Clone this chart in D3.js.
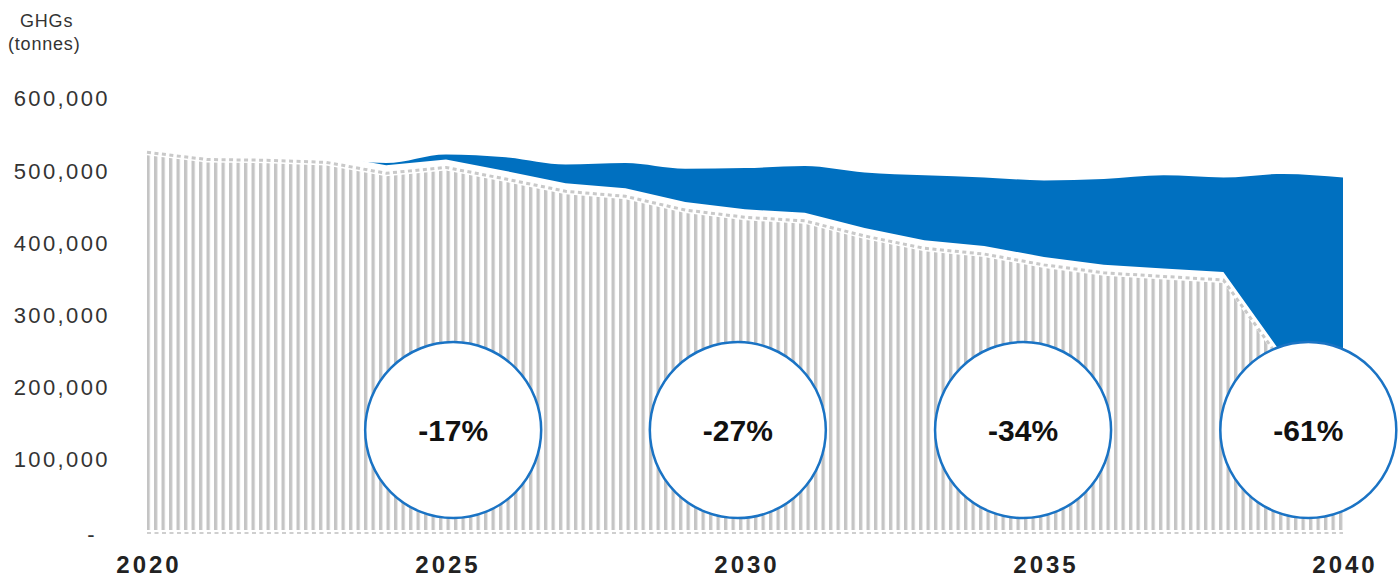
<!DOCTYPE html>
<html><head><meta charset="utf-8">
<script src="https://cdn.jsdelivr.net/npm/d3@7"></script>
<style>
body{margin:0;background:#fff;}
svg{display:block;font-family:"Liberation Sans",Arial,sans-serif;}
</style></head>
<body><svg id="chart" width="1398" height="578"></svg>
<script>
const years = [2020,2021,2022,2023,2024,2025,2026,2027,2028,2029,2030,2031,2032,2033,2034,2035,2036,2037,2038,2039,2040];
const pathway = [540000,530000,529000,526000,511000,519000,503000,486000,479000,460000,450000,445000,424000,407000,399000,384000,373000,368000,363000,247000,215000];
const bau = [null,null,null,522000,514000,526000,522000,512000,514000,506000,507000,510000,501000,497000,494000,490000,492000,497000,494000,499000,494000];
const yTicks = [0,100000,200000,300000,400000,500000,600000];
const xTicks = [2020,2025,2030,2035,2040];
const badgeLabels = ["-17%","-27%","-34%","-61%"];
const badgeYears = [2025.12,2029.88,2034.65,2039.42];
const badgeValue = 144000;

const svg = d3.select("#chart");
const x = d3.scaleLinear().domain([2020,2040]).range([147,1343]);
const y = d3.scaleLinear().domain([0,600000]).range([534,101]);
const blue = "#0070c0";

const defs = svg.append("defs");
const pat = defs.append("pattern").attr("id","stripes").attr("patternUnits","userSpaceOnUse")
  .attr("x", x(2020)-0.5).attr("y",0).attr("width",7.5).attr("height",10);
pat.append("rect").attr("x",0).attr("y",0).attr("width",3.3).attr("height",10).attr("fill","#c4c4c4");

const rows = years.map((yr,i)=>({yr, p: pathway[i], b: bau[i]}));
const smooth = d3.curveMonotoneX;
const pcurve = d3.curveLinear;

// blue area: BAU down to zero, then pathway area masks it in white
const bauRows = rows.filter(d=>d.b!==null);
svg.append("path").datum(bauRows)
  .attr("fill", blue)
  .attr("d", d3.area().curve(smooth).x(d=>x(d.yr)).y0(y(0)).y1(d=>y(d.b)));
svg.append("path").datum(rows)
  .attr("fill","#fff")
  .attr("d", d3.area().curve(pcurve).x(d=>x(d.yr)).y0(y(0)).y1(d=>y(d.p)));

// hatched area
svg.append("path").datum(rows)
  .attr("fill","url(#stripes)")
  .attr("d", d3.area().curve(pcurve).x(d=>x(d.yr)).y0(y(0)-4).y1(d=>y(d.p)+11));

// dashed top and bottom border of hatched area
svg.append("path").datum(rows)
  .attr("fill","none").attr("stroke","#c9c9c9").attr("stroke-width",3).attr("stroke-dasharray","4 3.5")
  .attr("d", d3.line().curve(pcurve).x(d=>x(d.yr)).y(d=>y(d.p)+8));
svg.append("line").attr("x1",x(2020)).attr("x2",x(2040)).attr("y1",y(0)-1).attr("y2",y(0)-1)
  .attr("stroke","#cfcfcf").attr("stroke-width",2).attr("stroke-dasharray","4 3.5");

// y axis
const yAxis = svg.append("g").attr("transform","translate(110,0)")
  .call(d3.axisLeft(y).tickValues(yTicks).tickSize(0).tickPadding(0)
    .tickFormat(v => v===0 ? "-" : d3.format(",")(v)));
yAxis.select(".domain").remove();
yAxis.selectAll("text").attr("font-size",22).attr("fill","#333").attr("letter-spacing","2.4px")
  .attr("font-family","'Liberation Sans',Arial,sans-serif")
  .attr("dy","0.22em")
  .attr("dx", v => v===0 ? -13 : 0)
  .attr("y", v => v===0 ? 3 : 0);

// x axis
const xAxis = svg.append("g").attr("transform",`translate(0,${y(0)})`)
  .call(d3.axisBottom(x).tickValues(xTicks).tickSize(0).tickPadding(0).tickFormat(d3.format("d")));
xAxis.select(".domain").remove();
xAxis.selectAll("text").attr("font-size",24).attr("font-weight","bold").attr("fill","#222")
  .attr("letter-spacing","3px").attr("dx","1.5px")
  .attr("font-family","'Liberation Sans',Arial,sans-serif")
  .attr("y",39).attr("dy",0);

// axis title
const title = svg.append("text").attr("font-size",18).attr("fill","#333").attr("letter-spacing","0.8px");
title.append("tspan").attr("x",20).attr("y",27).text("GHGs");
title.append("tspan").attr("x",8).attr("y",50).text("(tonnes)");

// badges
const badges = svg.append("g").selectAll("g").data(badgeLabels).join("g")
  .attr("transform",(d,i)=>`translate(${x(badgeYears[i])},${y(badgeValue)})`);
badges.append("circle").attr("r",88).attr("fill","#fff").attr("stroke","#1a73c4").attr("stroke-width",2.5);
badges.append("text").attr("text-anchor","middle").attr("dy","0.36em")
  .attr("font-size",30).attr("font-weight","bold").attr("fill","#111").text(d=>d);
</script></body></html>
